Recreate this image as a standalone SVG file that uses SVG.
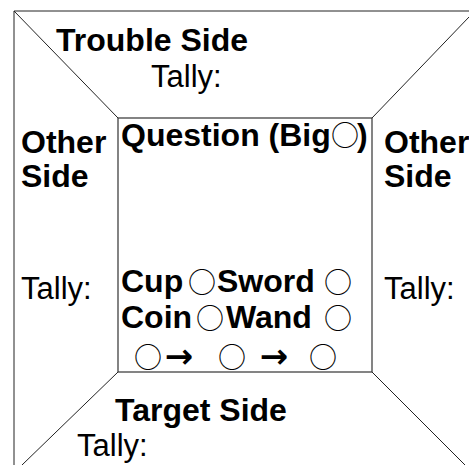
<svg xmlns="http://www.w3.org/2000/svg" width="469" height="465" viewBox="0 0 469 465">
<style>
  .ln { stroke: #222; stroke-width: 1; fill: none; }
  .box { stroke: #333; stroke-width: 1.2; fill: #fff; }
  .b { font-family: "Liberation Sans", Arial, sans-serif; font-weight: bold; font-size: 32px; fill: #000; }
  .r { font-family: "Liberation Sans", Arial, sans-serif; font-size: 31px; fill: #000; }
  .c { font-family: "Noto Sans CJK JP", "DejaVu Sans", sans-serif; font-weight: normal; font-size: 28px; fill: #000; text-anchor: middle; dominant-baseline: central; }
  .a { font-family: "DejaVu Sans", sans-serif; font-weight: bold; font-size: 34px; fill: #000; text-anchor: middle; dominant-baseline: central; }
</style>
<rect width="469" height="465" fill="#fff"/>
<g id="connectors">
  <path class="ln" d="M14 465 V11 H469"/>
  <path class="ln" d="M14 11 L118 118"/>
  <path class="ln" d="M469 17 L372 118"/>
  <path class="ln" d="M118 372 L22 465"/>
  <path class="ln" d="M372 372 L465 465"/>
</g>
<g id="trouble-side">
  <text class="b" x="56" y="51">Trouble Side</text>
  <text class="r" x="151" y="87">Tally:</text>
</g>
<g id="left-side">
  <text class="b" x="21" y="153">Other</text>
  <text class="b" x="21" y="187">Side</text>
  <text class="r" x="21" y="299">Tally:</text>
</g>
<g id="right-side">
  <text class="b" x="384" y="153">Other</text>
  <text class="b" x="384" y="187">Side</text>
  <text class="r" x="384" y="299">Tally:</text>
</g>
<g id="question">
  <rect class="box" x="118" y="118" width="254" height="254"/>
  <text class="b" x="121" y="146">Question (Big</text>
  <text class="c" x="345" y="134">○</text>
  <text class="b" x="357" y="146">)</text>
  <text class="b" x="121" y="292">Cup</text>
  <text class="c" x="202" y="281">○</text>
  <text class="b" x="217" y="292">Sword</text>
  <text class="c" x="338" y="281">○</text>
  <text class="b" x="121" y="328">Coin</text>
  <text class="c" x="210" y="317">○</text>
  <text class="b" x="226" y="328">Wand</text>
  <text class="c" x="338" y="317">○</text>
  <text class="c" x="148" y="356">○</text>
  <text class="a" x="179" y="356">→</text>
  <text class="c" x="232" y="356">○</text>
  <text class="a" x="274" y="356">→</text>
  <text class="c" x="323" y="356">○</text>
</g>
<g id="target-side">
  <text class="b" x="115" y="421">Target Side</text>
  <text class="r" x="77" y="456">Tally:</text>
</g>
</svg>
